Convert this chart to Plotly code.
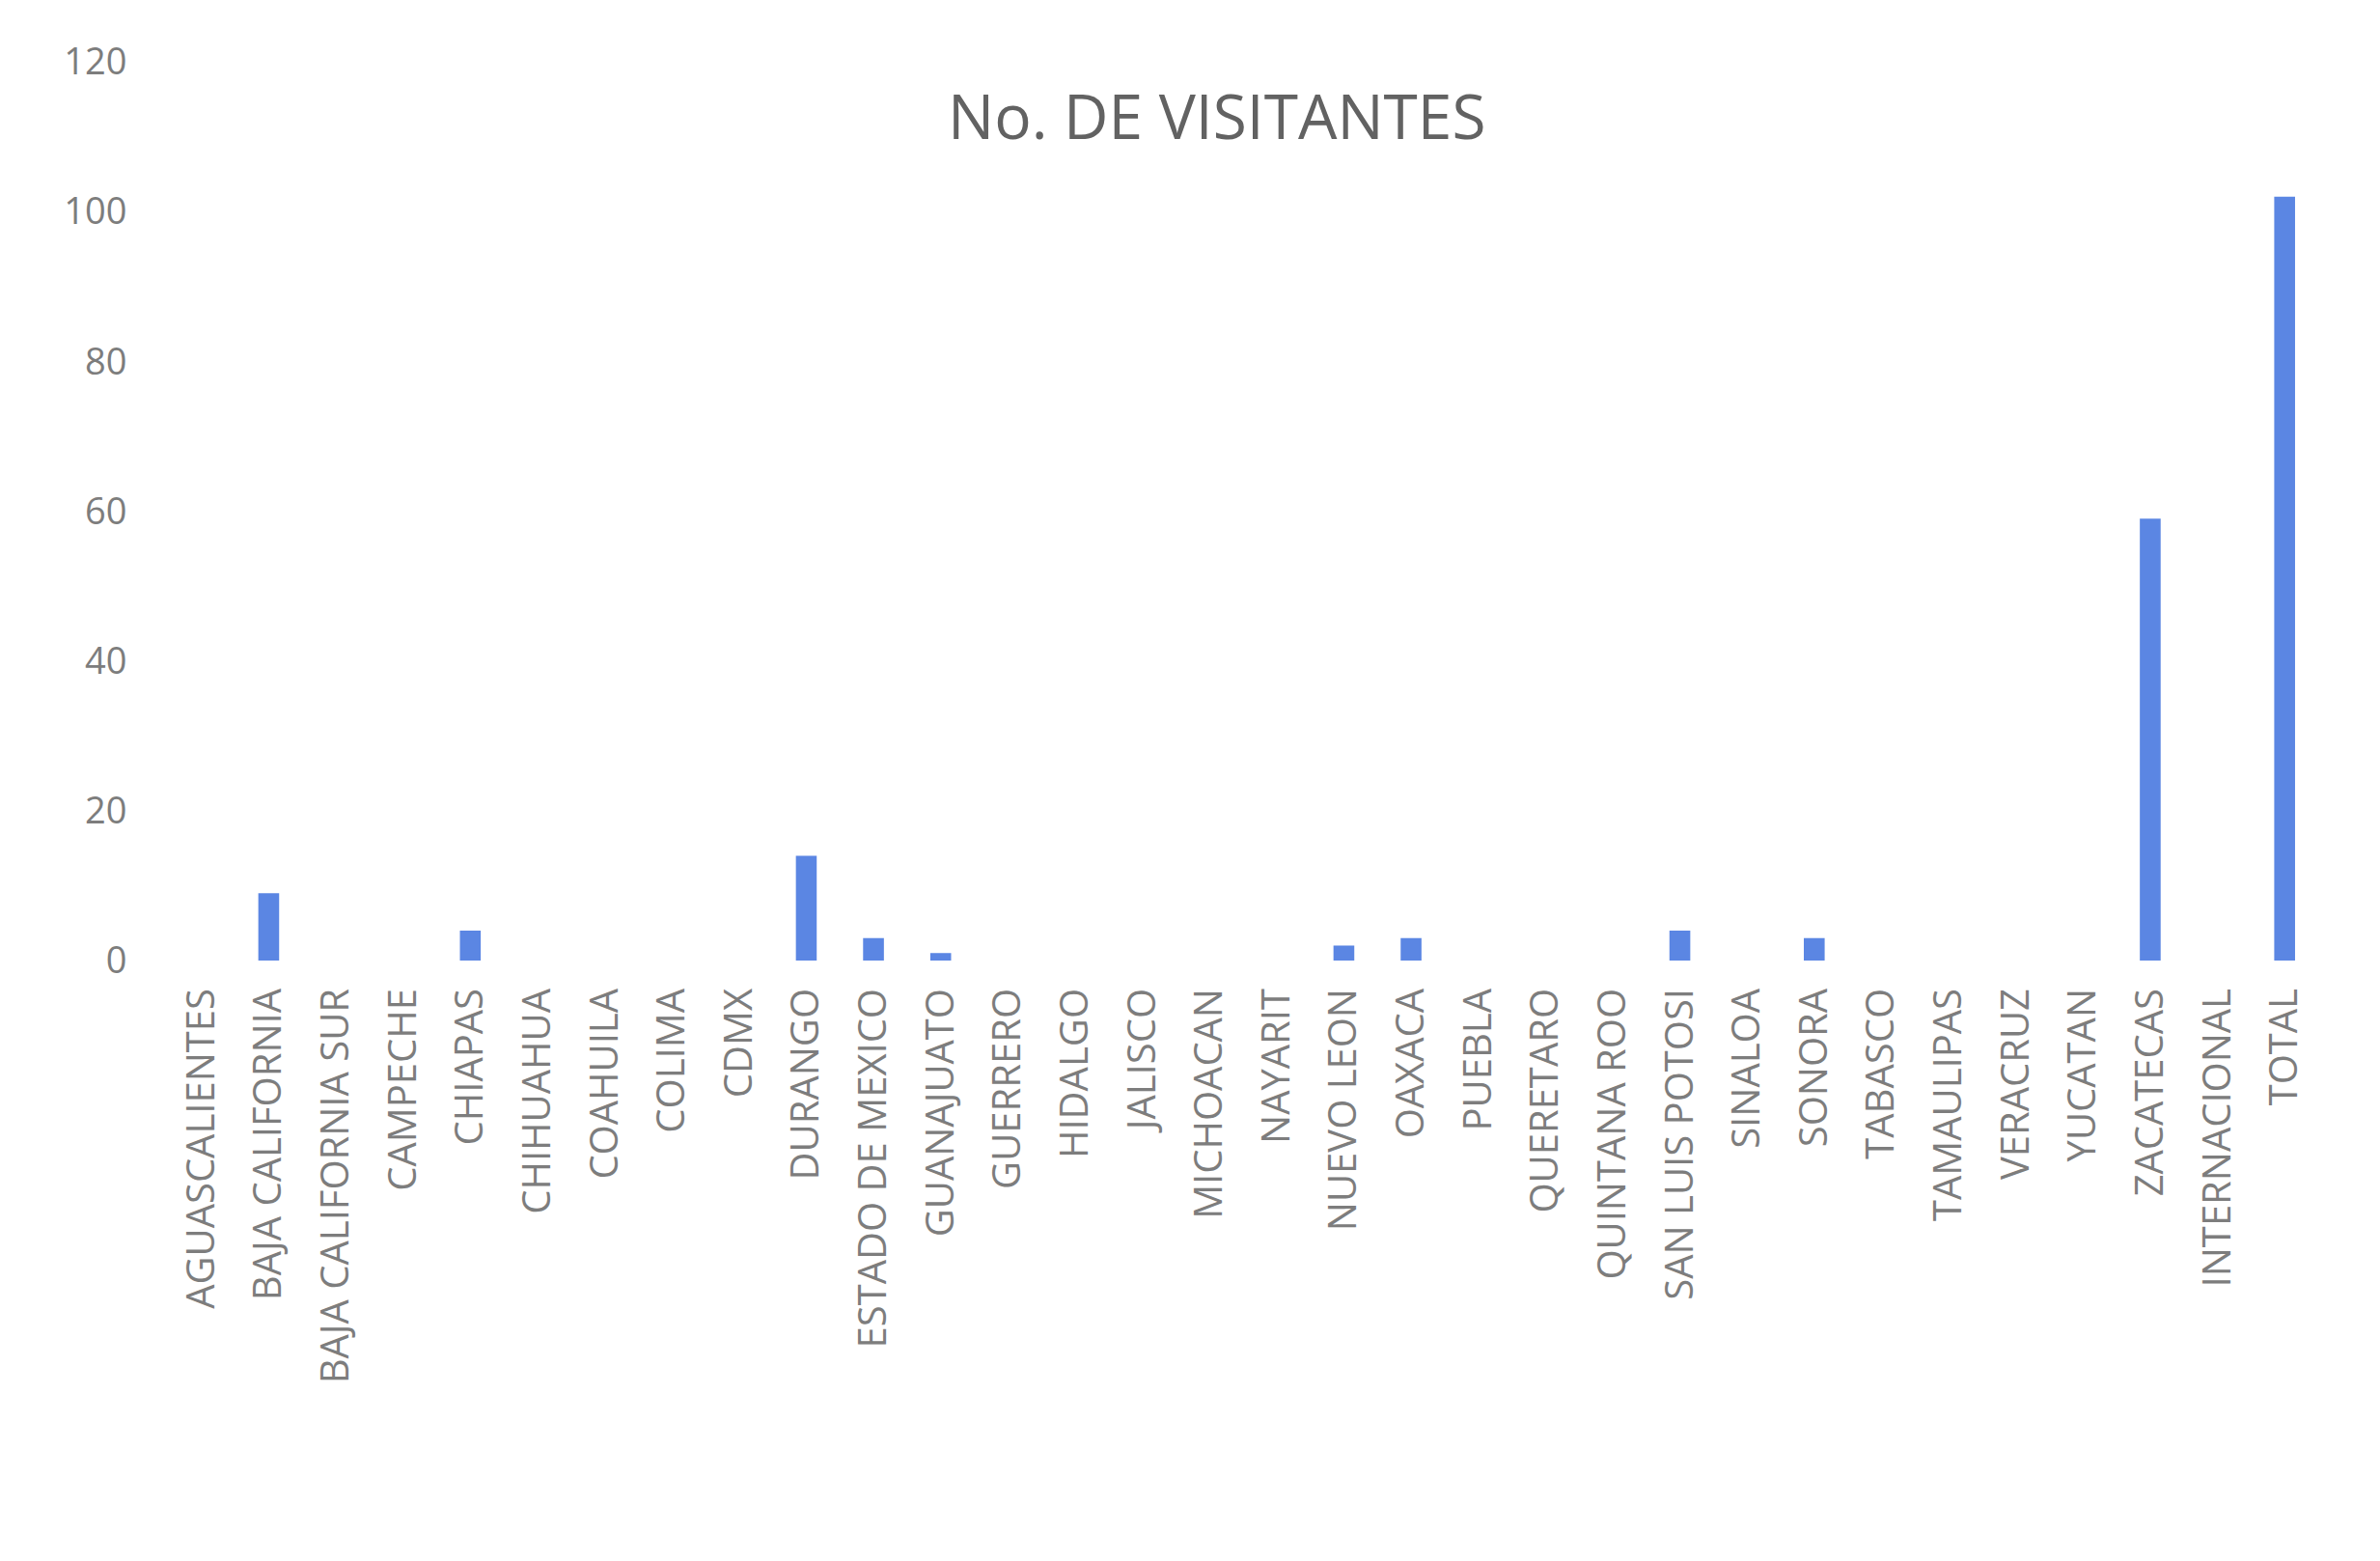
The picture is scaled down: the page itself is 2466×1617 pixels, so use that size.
import plotly.graph_objects as go

categories = ["AGUASCALIENTES", "BAJA CALIFORNIA", "BAJA CALIFORNIA SUR", "CAMPECHE", "CHIAPAS",
              "CHIHUAHUA", "COAHUILA", "COLIMA", "CDMX", "DURANGO", "ESTADO DE MEXICO",
              "GUANAJUATO", "GUERRERO", "HIDALGO", "JALISCO", "MICHOACAN", "NAYARIT",
              "NUEVO LEON", "OAXACA", "PUEBLA", "QUERETARO", "QUINTANA ROO", "SAN LUIS POTOSI",
              "SINALOA", "SONORA", "TABASCO", "TAMAULIPAS", "VERACRUZ", "YUCATAN", "ZACATECAS",
              "INTERNACIONAL", "TOTAL"]
visitantes = [0, 9, 0, 0, 4, 0, 0, 0, 0, 14, 3, 1, 0, 0, 0, 0, 0, 2, 3, 0, 0, 0, 4,
              0, 3, 0, 0, 0, 0, 59, 0, 102]
y_ticks = [0, 20, 40, 60, 80, 100, 120]

fig = go.Figure(go.Bar(x=categories, y=visitantes, marker_color="#5B86E3",
                       marker_line_width=0))

fig.update_layout(
    width=2466, height=1617,
    paper_bgcolor="white", plot_bgcolor="white",
    margin=dict(l=166, r=72, t=56, b=630),
    bargap=0.69,
    showlegend=False,
    title=dict(text="No. DE VISITANTES", x=0.508, xanchor="center", y=0.93, yanchor="middle",
               font=dict(family="Open Sans", size=64, color="#626262")),
    font=dict(family="Open Sans", color="#7d7d7d"),
)
fig.update_xaxes(tickangle=-90, tickfont=dict(size=40, color="#7d7d7d"),
                 showline=False, showgrid=False, ticks="outside", ticklen=12, tickcolor="rgba(0,0,0,0)")
fig.update_yaxes(range=[0, 120], tickvals=y_ticks, showgrid=False, zeroline=False, showline=False,
                 tickfont=dict(size=38, color="#7d7d7d"),
                 ticks="outside", ticklen=34, tickcolor="rgba(0,0,0,0)")

fig.write_html("out.html")
